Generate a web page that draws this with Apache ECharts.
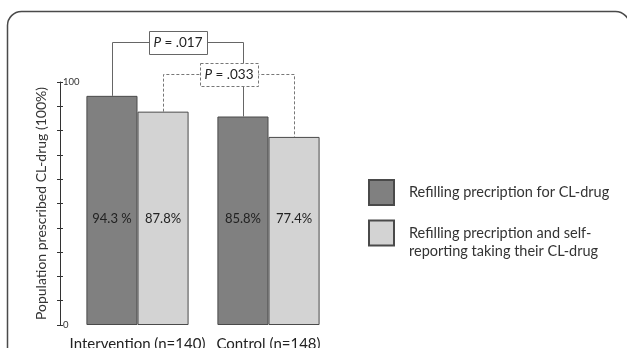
<!DOCTYPE html>
<html><head><meta charset="utf-8">
<script src="https://cdn.jsdelivr.net/npm/echarts@6/dist/echarts.min.js"></script>
<style>html,body{margin:0;padding:0;background:#fff}#c{width:627px;height:348px}</style>
</head><body><div id="c"></div>
<script>
const categories = ['Intervention (n=140)', 'Control (n=148)'];
const seriesNames = ['Refilling precription for CL-drug', 'Refilling precription and self-\nreporting taking their CL-drug'];
const refillValues = [94.3, 85.8];
const refillSelfValues = [87.8, 77.4];
const refillLabels = ['94.3 %', '85.8%'];
const refillSelfLabels = ['87.8%', '77.4%'];
const yTickLabels = ['0', '100'];
const pValues = ['.017', '.033'];
const bracketLevels = [116.5, 103.3];

const FONT = 'Lato';
const chart = echarts.init(document.getElementById('c'), null, {renderer: 'canvas'});
const barBorder = '#4a4a4a';
const option = {
  animation: false,
  textStyle: {fontFamily: FONT},
  grid: {left: 72, right: 293, top: 82, bottom: 23, containLabel: false, outerBoundsMode: 'none'},
  legend: {
    orient: 'vertical', left: 368, top: 179, itemWidth: 25, itemHeight: 25, itemGap: 0, padding: 0,
    icon: 'rect',
    textStyle: {fontFamily: FONT, fontSize: 14.5, color: '#333', padding: [0, 0, 0, 10], lineHeight: 18},
    formatter: name => (name === seriesNames[1] ? '\n' + name : name),
    data: [seriesNames[0], seriesNames[1]]
  },
  xAxis: {
    type: 'category', data: categories,
    axisLine: {show: false}, axisTick: {show: false},
    axisLabel: {fontFamily: FONT, fontSize: 15, color: '#222', margin: 12, interval: 0, hideOverlap: false}
  },
  yAxis: [{
    type: 'value', min: 0, max: 100, interval: 10, offset: 12,
    name: 'Population prescribed CL-drug (100%)', nameLocation: 'middle', nameGap: 12,
    nameTextStyle: {fontFamily: FONT, fontSize: 14, color: '#333'},
    splitLine: {show: false},
    axisLine: {show: true, lineStyle: {color: '#333', width: 1}},
    axisTick: {show: true, length: 3, lineStyle: {color: '#333'}},
    axisLabel: {inside: true, margin: 3, fontSize: 9.5, color: '#333', fontFamily: FONT,
      formatter: v => (v === 0 ? yTickLabels[0] : v === 100 ? yTickLabels[1] : '')}
  }, {
    type: 'value', min: 0, max: 100, interval: 10, position: 'left', offset: 12,
    splitLine: {show: false}, axisLine: {show: false},
    axisTick: {show: true, inside: true, length: 3, lineStyle: {color: '#333'}},
    axisLabel: {show: false}
  }],
  series: [{
    name: seriesNames[0], type: 'bar', data: refillValues, barGap: 0, barCategoryGap: '22%',
    itemStyle: {color: '#808080', borderColor: barBorder, borderWidth: 1},
    label: {show: true, position: 'insideBottom', distance: 100, fontSize: 13, color: '#222', fontFamily: FONT,
      formatter: p => refillLabels[p.dataIndex]}
  }, {
    name: seriesNames[1], type: 'bar', data: refillSelfValues, barGap: 0, barCategoryGap: '22%',
    itemStyle: {color: '#d3d3d3', borderColor: barBorder, borderWidth: 1},
    label: {show: true, position: 'insideBottom', distance: 100, fontSize: 13, color: '#222', fontFamily: FONT,
      formatter: p => refillSelfLabels[p.dataIndex]}
  }]
};
chart.setOption(option);

function barTop(si, i) {
  const l = chart.getModel().getSeriesByIndex(si).getData().getItemLayout(i);
  return {x: l.x + l.width / 2, y: Math.min(l.y, l.y + l.height)};
}
const graphics = [{
  type: 'rect', shape: {x: 7.5, y: 11.5, width: 622, height: 400, r: 14}, silent: true,
  style: {fill: 'none', stroke: '#4a4a4a', lineWidth: 1.5}, z: 0
}];
[0, 1].forEach(si => {
  const a = barTop(si, 0), b = barTop(si, 1);
  const ly = Math.round(chart.convertToPixel({yAxisIndex: 0}, bracketLevels[si])) + 0.5;
  const dash = si === 1 ? [3, 2] : null;
  const ax = Math.round(a.x) + 0.5, bx = Math.round(b.x) + 0.5;
  graphics.push({
    type: 'polyline', z: 10 + si * 2, silent: true,
    shape: {points: [[ax, a.y], [ax, ly], [bx, ly], [bx, b.y]]},
    style: {stroke: si === 1 ? '#777' : '#666', lineWidth: 1, lineDash: dash, fill: null}
  });
  const cx = (ax + bx) / 2, w = 58, h = 23;
  graphics.push({
    type: 'rect', z: 11 + si * 2, silent: true,
    shape: {x: Math.round(cx - w / 2) + 0.5, y: Math.round(ly - h / 2) + 0.5, width: w, height: h},
    style: {fill: '#fff', stroke: si === 1 ? '#777' : '#666', lineWidth: 1, lineDash: dash}
  });
  graphics.push({
    type: 'text', z: 12 + si * 2, silent: true, x: cx, y: ly,
    style: {text: '{i|P} = ' + pValues[si], x: 0, y: 0, align: 'center', verticalAlign: 'middle',
      fontFamily: FONT, fontSize: 13.5, fill: '#222',
      rich: {i: {fontStyle: 'italic', fontFamily: FONT, fontSize: 13.5, fill: '#222'}}}
  });
});
chart.setOption({graphic: graphics});
</script></body></html>
